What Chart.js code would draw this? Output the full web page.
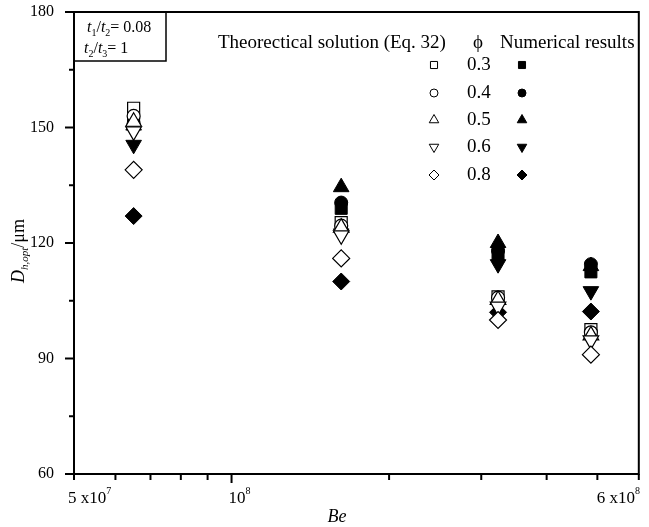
<!DOCTYPE html>
<html>
<head>
<meta charset="utf-8">
<script src="https://cdn.jsdelivr.net/npm/chart.js@4/dist/chart.umd.min.js"></script>
<style>
  html, body { margin: 0; padding: 0; background: #fff; }
</style>
</head>
<body>
<canvas id="dh-opt-chart" width="649" height="527"></canvas>
<script>
// Be values of the four groups (log axis)
const beValues = [6.5e7, 1.62e8, 3.23e8, 4.86e8];
const phiLabels = ['0.3', '0.4', '0.5', '0.6', '0.8'];

// Theorectical solution (Eq. 32), open markers
const theory03 = [155, 125.3, 106, 97.5];
const theory04 = [153, 124.5, 105.8, 96.8];
const theory05 = [151.5, 124, 105.2, 96];
const theory06 = [149, 122, 103.5, 94.7];
const theory08 = [139, 116, 100, 91];

// Numerical results, filled markers
const numeric03 = [151.5, 129, 117, 112.5];
const numeric04 = [151, 130.5, 118, 114.5];
const numeric05 = [150.5, 134.5, 120, 114];
const numeric06 = [145.5, 122.5, 114.5, 107.5];
const numeric08 = [127, 110, 102, 102.2];

const yTicks = [60, 90, 120, 150, 180];
const yMinorTicks = [75, 105, 135, 165];
const xMajorTicks = [5e7, 1e8, 6e8];
const xMinorTicks = [6e7, 7e7, 8e7, 9e7, 2e8, 3e8, 4e8, 5e8];

const SERIF = '"Liberation Serif", "Times New Roman", serif';

const markerStyles = [
    { pointStyle: 'rect', rotation: 0, radius: 8.5, legendRadius: 5 },
    { pointStyle: 'circle', rotation: 0, radius: 6.5, legendRadius: 4 },
    { pointStyle: 'triangle', rotation: 0, radius: 9, legendRadius: 5.5 },
    { pointStyle: 'triangle', rotation: 180, radius: 9, legendRadius: 5.5 },
    { pointStyle: 'rectRot', rotation: 0, radius: 8.5, legendRadius: 5 }
];
const theorySeries = [theory03, theory04, theory05, theory06, theory08];
const numericSeries = [numeric03, numeric04, numeric05, numeric06, numeric08];

function toPoints(values) {
    return values.map((v, i) => ({ x: beValues[i], y: v }));
}

const datasets = [];
theorySeries.forEach((vals, k) => {
    const m = markerStyles[k];
    datasets.push({
        label: 'Theory ' + phiLabels[k],
        data: toPoints(vals),
        pointStyle: m.pointStyle,
        pointRotation: m.rotation,
        pointRadius: m.radius,
        pointHoverRadius: m.radius,
        backgroundColor: '#fff',
        borderColor: '#000',
        borderWidth: 1.2,
        order: 5 - k
    });
});
numericSeries.forEach((vals, k) => {
    const m = markerStyles[k];
    datasets.push({
        label: 'Numerical ' + phiLabels[k],
        data: toPoints(vals),
        pointStyle: m.pointStyle,
        pointRotation: m.rotation,
        pointRadius: m.radius,
        pointHoverRadius: m.radius,
        backgroundColor: '#000',
        borderColor: '#000',
        borderWidth: 1,
        order: 10 - k
    });
});

// draws a list of text runs: [text, italic, sizeFactor, dy]
function drawRuns(ctx, runs, x, y, size) {
    let cx = x;
    runs.forEach(r => {
        const s = Math.round(size * (r[2] || 1));
        ctx.font = (r[1] ? 'italic ' : '') + s + 'px ' + SERIF;
        ctx.fillText(r[0], cx, y + (r[3] || 0));
        cx += ctx.measureText(r[0]).width;
    });
    return cx - x;
}
function runsWidth(ctx, runs, size) {
    let w = 0;
    runs.forEach(r => {
        const s = Math.round(size * (r[2] || 1));
        ctx.font = (r[1] ? 'italic ' : '') + s + 'px ' + SERIF;
        w += ctx.measureText(r[0]).width;
    });
    return w;
}

const framePlugin = {
    id: 'framePlugin',
    afterDatasetsDraw(chart) {
        const ctx = chart.ctx;
        const a = chart.chartArea;
        const xs = chart.scales.x, ys = chart.scales.y;
        ctx.save();
        ctx.strokeStyle = '#000';
        ctx.fillStyle = '#000';
        ctx.lineWidth = 2;
        ctx.strokeRect(a.left, a.top, a.right - a.left, a.bottom - a.top);

        // y ticks
        yTicks.forEach(v => {
            const py = ys.getPixelForValue(v);
            ctx.beginPath(); ctx.moveTo(a.left - 9, py); ctx.lineTo(a.left, py); ctx.stroke();
        });
        yMinorTicks.forEach(v => {
            const py = ys.getPixelForValue(v);
            ctx.beginPath(); ctx.moveTo(a.left - 5, py); ctx.lineTo(a.left, py); ctx.stroke();
        });
        ctx.font = '16px ' + SERIF;
        ctx.textAlign = 'right';
        ctx.textBaseline = 'middle';
        yTicks.forEach(v => {
            ctx.fillText(String(v), a.left - 20, ys.getPixelForValue(v));
        });

        // x ticks
        xMajorTicks.forEach(v => {
            const px = xs.getPixelForValue(v);
            const len = v === 1e8 ? 9 : 6;
            ctx.beginPath(); ctx.moveTo(px, a.bottom); ctx.lineTo(px, a.bottom + len); ctx.stroke();
        });
        xMinorTicks.forEach(v => {
            const px = xs.getPixelForValue(v);
            ctx.beginPath(); ctx.moveTo(px, a.bottom); ctx.lineTo(px, a.bottom + 6); ctx.stroke();
        });
        ctx.textAlign = 'left';
        ctx.textBaseline = 'alphabetic';
        const ly = a.bottom + 29;
        const xl = [
            [5e7, -6, [['5 x10', false], ['7', false, 0.6, -9]]],
            [1e8, -3, [['10', false], ['8', false, 0.6, -9]]],
            [6e8, -42, [['6 x10', false], ['8', false, 0.6, -9]]]
        ];
        xl.forEach(([v, dx, runs]) => {
            drawRuns(ctx, runs, xs.getPixelForValue(v) + dx, ly, 17);
        });

        // axis titles
        const beRuns = [['Be', true]];
        drawRuns(ctx, beRuns, 337 - runsWidth(ctx, beRuns, 18) / 2, 522, 18);

        ctx.save();
        ctx.translate(19, 251);
        ctx.rotate(-Math.PI / 2);
        const yRuns = [['D', true], ['h,opt', true, 0.62, 4], ['/\u03bcm', false]];
        drawRuns(ctx, yRuns, -runsWidth(ctx, yRuns, 18) / 2, 5, 18);
        ctx.restore();

        // parameter box
        ctx.lineWidth = 1.5;
        ctx.strokeRect(a.left, a.top, 92, 49);
        drawRuns(ctx, [['t', true], ['1', false, 0.62, 4], ['/', false], ['t', true], ['2', false, 0.62, 4], ['= 0.08', false]], 87, 32, 16);
        drawRuns(ctx, [['t', true], ['2', false, 0.62, 4], ['/', false], ['t', true], ['3', false, 0.62, 4], ['= 1', false]], 84, 53, 16);

        // legend
        ctx.font = '19px ' + SERIF;
        ctx.textAlign = 'left';
        ctx.textBaseline = 'middle';
        ctx.fillText('Theorectical solution (Eq. 32)', 218, 43);
        ctx.fillText('\u03d5', 473, 43);
        ctx.fillText('Numerical results', 500, 43);
        const rowY = [65, 93, 120, 147, 175];
        rowY.forEach((ry, k) => {
            const m = markerStyles[k];
            const opts = { pointStyle: m.pointStyle, rotation: m.rotation, radius: m.legendRadius, borderWidth: 1 };
            ctx.fillStyle = '#000';
            ctx.fillText(phiLabels[k], 467, ry);
            ctx.lineWidth = 1;
            ctx.fillStyle = '#fff';
            Chart.helpers.drawPoint(ctx, opts, 434, ry);
            ctx.fillStyle = '#000';
            Chart.helpers.drawPoint(ctx, opts, 522, ry);
        });
        ctx.restore();
    }
};

const ctx = document.getElementById('dh-opt-chart');
new Chart(ctx, {
    type: 'scatter',
    data: { datasets: datasets },
    options: {
        responsive: false,
        animation: false,
        layout: { padding: { left: 74, top: 12, right: 9, bottom: 53 } },
        plugins: { legend: { display: false }, tooltip: { enabled: false } },
        scales: {
            x: { type: 'logarithmic', min: 5e7, max: 6e8, display: false },
            y: { type: 'linear', min: 60, max: 180, display: false }
        }
    },
    plugins: [framePlugin]
});
</script>
</body>
</html>
